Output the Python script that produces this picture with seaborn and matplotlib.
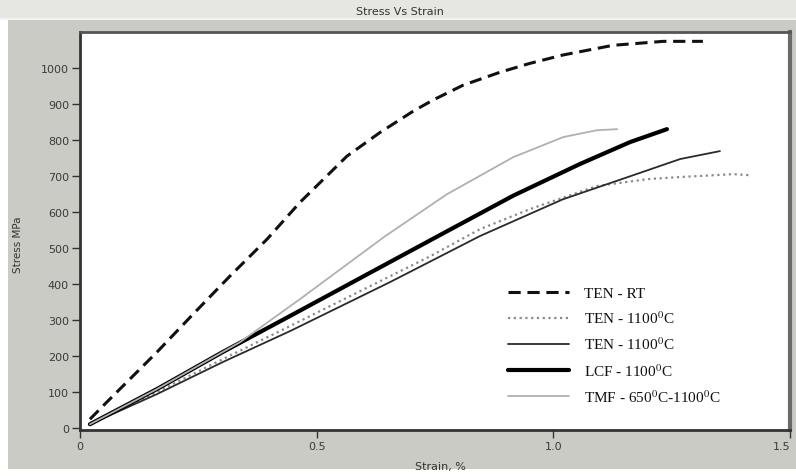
import numpy as np
import pandas as pd
import matplotlib
matplotlib.use("Agg")
import matplotlib.pyplot as plt
import matplotlib.transforms as mtransforms
import seaborn as sns
from matplotlib.patches import Rectangle

sns.set_theme(style="white")
plt.rcParams['font.family'] = ['DejaVu Sans']
plt.rcParams['mathtext.fontset'] = 'stix'

# ---- data (strain %, stress MPa) ----
ten_rt_strain = [0.021, 0.057, 0.163, 0.239, 0.317, 0.395, 0.465, 0.564, 0.634, 0.704, 0.746,
                 0.809, 0.887, 0.951, 1.020, 1.126, 1.232, 1.316]
ten_rt_stress = [24, 72, 211, 316, 422, 524, 627, 755, 821, 880, 911,
                 952, 988, 1013, 1036, 1063, 1074, 1074]

ten1100_dot_strain = [0.021, 0.163, 0.302, 0.444, 0.740, 0.845, 0.951, 1.092, 1.198, 1.268, 1.380, 1.416]
ten1100_dot_stress = [10, 100, 191, 283, 477, 552, 608, 672, 691, 697, 705, 702]

ten1100_strain = [0.021, 0.163, 0.302, 0.444, 0.655, 0.845, 1.020, 1.162, 1.268, 1.352]
ten1100_stress = [10, 94, 183, 269, 405, 533, 635, 699, 747, 769]

lcf_strain = [0.021, 0.163, 0.302, 0.444, 0.634, 0.775, 0.915, 1.056, 1.162, 1.240]
lcf_stress = [10, 108, 211, 311, 446, 546, 645, 733, 794, 830]

tmf_strain = [0.021, 0.163, 0.338, 0.465, 0.644, 0.775, 0.915, 1.021, 1.092, 1.135]
tmf_stress = [10, 108, 238, 358, 532, 649, 752, 808, 827, 830]

labels = ["TEN - RT", "TEN - 1100$^{0}$C", "TEN - 1100$^{0}$C", "LCF - 1100$^{0}$C",
          "TMF - 650$^{0}$C-1100$^{0}$C"]

x_ticks = [0, 0.5, 1.0, 1.5]
x_ticklabels = ["0", "0.5", "1.0", "1.5"]
y_ticks = [0, 100, 200, 300, 400, 500, 600, 700, 800, 900, 1000]

W, H = 796, 477
fig = plt.figure(figsize=(W / 100, H / 100), dpi=100)
fig.patch.set_facecolor("white")

# background panels
fig.add_artist(Rectangle((8 / W, 1 - 470 / H), (W - 8) / W, (470 - 20) / H,
                         transform=fig.transFigure, facecolor="#c9cbc4", edgecolor="none", zorder=0))
fig.add_artist(Rectangle((0, 1 - 19 / H), 1, 19 / H, transform=fig.transFigure,
                         facecolor="#e6e7e3", edgecolor="none", zorder=0))
fig.add_artist(Rectangle((0, 1 - 21 / H), 1, 2 / H, transform=fig.transFigure,
                         facecolor="#f4f4f2", edgecolor="none", zorder=0))

ax = fig.add_axes([80 / W, 1 - 431 / H, (790 - 80) / W, (431 - 33) / H])
ax.set_facecolor("white")

series = [
    (ten_rt_strain, ten_rt_stress, dict(color="#111111", lw=2.2, ls=(0, (4, 2.2)))),
    (ten1100_dot_strain, ten1100_dot_stress, dict(color="#8a8a8a", lw=1.6, ls=(0, (1, 1.6)))),
    (ten1100_strain, ten1100_stress, dict(color="#2a2a2a", lw=1.3, ls="-")),
    (lcf_strain, lcf_stress, dict(color="#000000", lw=3.0, ls="-")),
    (tmf_strain, tmf_stress, dict(color="#b0b0b0", lw=1.3, ls="-")),
]

handles = []
for (xs, ys, st), lab in zip(series, labels):
    df = pd.DataFrame({"strain": xs, "stress": ys})
    sns.lineplot(data=df, x="strain", y="stress", ax=ax, sort=False, estimator=None,
                 color=st["color"], linewidth=st["lw"], linestyle=st["ls"])
    handles.append(ax.lines[-1])

ax.set_xlim(0, 1.5)
ax.set_ylim(-6, 1100)
ax.set_xticks(x_ticks)
ax.set_xticklabels(x_ticklabels)
ax.set_yticks(y_ticks)
ax.set_xlabel("")
ax.set_ylabel("")
ax.tick_params(axis="both", direction="out", length=6, width=1, color="#333333",
               labelsize=8, labelcolor="#3a3a3a", left=True, bottom=True, pad=2)

# keep the last x label inside the figure
last = ax.get_xticklabels()[-1]
last.set_transform(last.get_transform() + mtransforms.ScaledTranslation(-8 / 100, 0, fig.dpi_scale_trans))

for side, sp in ax.spines.items():
    sp.set_visible(True)
    sp.set_color("#333333")
    sp.set_linewidth(2)
ax.spines["right"].set_color("#6a6a6a")
ax.spines["right"].set_linewidth(3)
ax.spines["top"].set_color("#555555")

leg = fig.legend(handles, labels, loc="upper left", bbox_to_anchor=(500 / W, 1 - 280 / H),
                 frameon=False, handlelength=4.0, handletextpad=1.0, labelspacing=0.62,
                 borderpad=0, prop={"family": "Liberation Serif", "size": 11})
for t in leg.get_texts():
    t.set_color("#111111")

fig.text(400 / W, 1 - 12 / H, "Stress Vs Strain", ha="center", va="center",
         fontsize=8, color="#333333")
fig.text(18 / W, 1 - 245 / H, "Stress MPa", ha="center", va="center", rotation=90,
         fontsize=7.5, color="#333333")
fig.text(440 / W, 1 - 467 / H, "Strain, %", ha="center", va="center",
         fontsize=8, color="#333333")

fig.savefig("out.png", dpi=100, facecolor=fig.get_facecolor())
